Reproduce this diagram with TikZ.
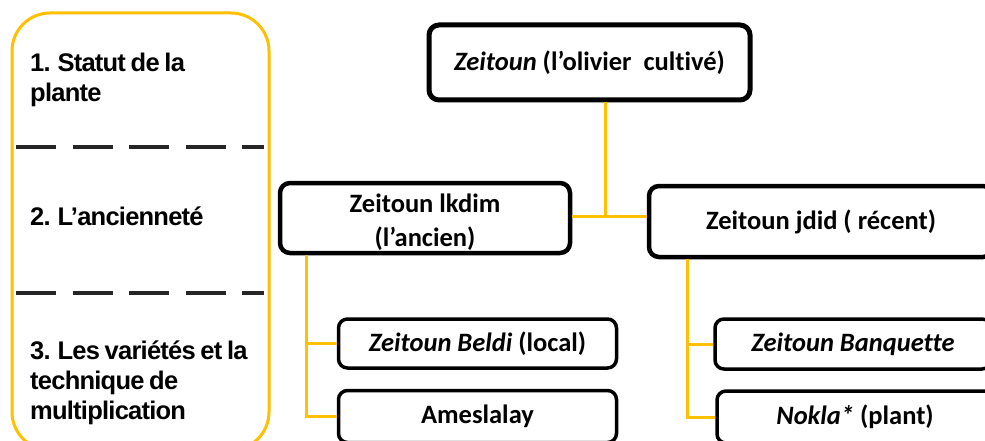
\documentclass[tikz,border=0pt]{standalone}
\usepackage{fontspec}
\setmainfont[Ligatures={TeX,CommonOff}]{Carlito}
\newfontfamily\panelfont[LetterSpace=-3,WordSpace=0.75]{Liberation Sans}
\usepackage{tikz}
\usetikzlibrary{positioning}
\definecolor{gold}{HTML}{FFC000}
\definecolor{ink}{HTML}{262626}
\tikzset{
	box/.style={draw=black, line width=4.5pt, rounded corners=10pt, fill=white, inner sep=0pt, align=center, font=\fontsize{26.5}{34}\selectfont\bfseries},
	subbox/.style={box, line width=3.5pt, rounded corners=9pt},
	link/.style={draw=gold, line width=3pt},
	level/.style={anchor=west, align=left, inner sep=0pt, font=\panelfont\fontsize{25.5}{30}\selectfont\bfseries},
}

\begin{document}
\begin{tikzpicture}[x=1pt,y=-1pt]
	\useasboundingbox (0,0) rectangle (985,441);
	\clip (0,0) rectangle (985,441);
	\fill [white] (0,0) rectangle (985,441);
	% Levels %
	\draw [gold, line width=3pt, rounded corners=38pt] (12,13) rectangle (269,450);
	\foreach \y in {147,293} \draw [ink, line width=4pt, dash pattern=on 40pt off 16.5pt] (16,\y) -- (264,\y);
	\node [level] (lvlstatut) at (30,80) {1. Statut de la\\plante};
	\node [level] (lvlage) at (30,216) {2. L’ancienneté};
	\node [level] (lvlvar) at (30,383) {3. Les variétés et la\\technique de\\multiplication};
	% Tree %
	\node [box, line width=5pt, minimum width=321pt, minimum height=75pt] (olive) at (589.5,62.5) {\textit{Zeitoun} (l’olivier\ \ cultivé)};
	\node [box, minimum width=290pt, minimum height=70pt] (old) at (425,218) {\rule{0pt}{27pt}Zeitoun lkdim\\(l’ancien)};
	\node [box, minimum width=344pt, minimum height=71pt] (new) at (821,221.5) {Zeitoun jdid ( récent)};
	\node [subbox, minimum width=278pt, minimum height=49pt] (beldi) at (477.5,343.5) {\textit{Zeitoun Beldi} (local)};
	\node [subbox, minimum width=278pt, minimum height=52pt] (ameslalay) at (477.5,416.5) {Ameslalay};
	\node [subbox, minimum width=276pt, minimum height=50pt] (banquette) at (853,344) {\textit{Zeitoun Banquette}};
	\node [subbox, minimum width=276pt, minimum height=52pt] (nokla) at (855,417) {\textit{Nokla*} (plant)};
	% Links %
	\coordinate (fork) at (605,216);
	\coordinate (oldstem) at (306,0);
	\coordinate (newstem) at (687,0);
	\draw [link] (fork |- olive.south) -- (fork);
	\draw [link] (old.east |- fork) -- (new.west |- fork);
	\draw [link] (oldstem |- old.south) -- (oldstem |- ameslalay.west) -- (ameslalay.west);
	\draw [link] (oldstem |- beldi.west) -- (beldi.west);
	\draw [link] (newstem |- new.south) -- (newstem |- nokla.west) -- (nokla.west);
	\draw [link] (newstem |- banquette.west) -- (banquette.west);
\end{tikzpicture}
\end{document}
